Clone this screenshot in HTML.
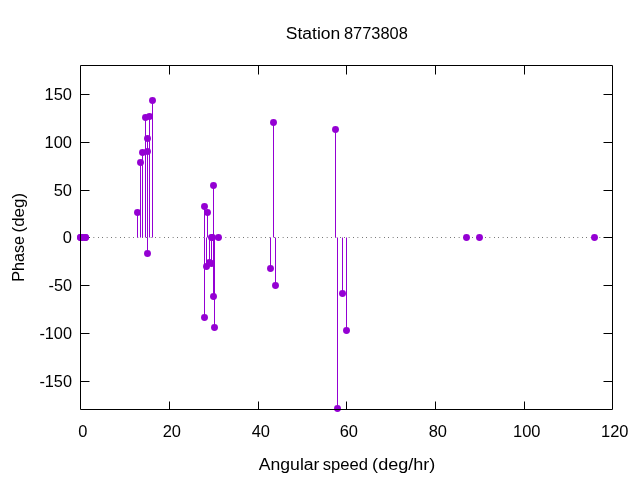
<!DOCTYPE html>
<html lang="en"><head><meta charset="utf-8"><title>Station 8773808</title>
<style>html,body{margin:0;padding:0;background:#fff;overflow:hidden}svg{display:block}text{font-family:"Liberation Sans",sans-serif;font-size:16px;fill:#000}</style></head><body>
<svg width="640" height="480" viewBox="0 0 640 480">
<rect width="640" height="480" fill="#fff"/>
<path d="M169.5 409.5V401.5M169.5 65.5V74.5M258.5 409.5V401.5M258.5 65.5V74.5M346.5 409.5V401.5M346.5 65.5V74.5M435.5 409.5V401.5M435.5 65.5V74.5M524.5 409.5V401.5M524.5 65.5V74.5M80.5 94.5H89.5M612.5 94.5H603.5M80.5 142.5H89.5M612.5 142.5H603.5M80.5 190.5H89.5M612.5 190.5H603.5M80.5 237.5H89.5M612.5 237.5H603.5M80.5 285.5H89.5M612.5 285.5H603.5M80.5 333.5H89.5M612.5 333.5H603.5M80.5 381.5H89.5M612.5 381.5H603.5" stroke="#000" stroke-width="1" fill="none"/>
<path d="M80.4 237.5H612.5" stroke="#000" stroke-width="1" stroke-dasharray="0.6 3.8" stroke-opacity="0.88" fill="none"/>
<path d="M137.5 237.5V212.5M140.5 237.5V162.5M142.5 237.5V152.5M147.5 237.5V151.5M147.5 237.5V138.5M145.5 237.5V117.5M149.5 237.5V116.5M152.5 237.5V100.5M147.5 237.5V253.5M213.5 237.5V185.5M204.5 237.5V206.5M207.5 237.5V212.5M206.5 237.5V266.5M209.5 237.5V262.5M211.5 237.5V263.5M213.5 237.5V296.5M204.5 237.5V317.5M214.5 237.5V327.5M273.5 237.5V122.5M270.5 237.5V268.5M275.5 237.5V285.5M335.5 237.5V129.5M337.5 237.5V408.5M342.5 237.5V293.5M346.5 237.5V330.5" stroke="#9400d3" stroke-width="1" fill="none"/>
<g fill="#9400d3">
<circle cx="80.5" cy="237.5" r="3.45"/>
<circle cx="80.5" cy="237.5" r="3.45"/>
<circle cx="82.5" cy="237.5" r="3.45"/>
<circle cx="85.5" cy="237.5" r="3.45"/>
<circle cx="85.5" cy="237.5" r="3.45"/>
<circle cx="137.5" cy="212.5" r="3.45"/>
<circle cx="140.5" cy="162.5" r="3.45"/>
<circle cx="142.5" cy="152.5" r="3.45"/>
<circle cx="147.5" cy="151.5" r="3.45"/>
<circle cx="147.5" cy="138.5" r="3.45"/>
<circle cx="145.5" cy="117.5" r="3.45"/>
<circle cx="149.5" cy="116.5" r="3.45"/>
<circle cx="152.5" cy="100.5" r="3.45"/>
<circle cx="147.5" cy="253.5" r="3.45"/>
<circle cx="213.5" cy="185.5" r="3.45"/>
<circle cx="204.5" cy="206.5" r="3.45"/>
<circle cx="207.5" cy="212.5" r="3.45"/>
<circle cx="211.5" cy="237.5" r="3.45"/>
<circle cx="212.5" cy="237.5" r="3.45"/>
<circle cx="218.5" cy="237.5" r="3.45"/>
<circle cx="206.5" cy="266.5" r="3.45"/>
<circle cx="209.5" cy="262.5" r="3.45"/>
<circle cx="211.5" cy="263.5" r="3.45"/>
<circle cx="213.5" cy="296.5" r="3.45"/>
<circle cx="204.5" cy="317.5" r="3.45"/>
<circle cx="214.5" cy="327.5" r="3.45"/>
<circle cx="273.5" cy="122.5" r="3.45"/>
<circle cx="270.5" cy="268.5" r="3.45"/>
<circle cx="275.5" cy="285.5" r="3.45"/>
<circle cx="335.5" cy="129.5" r="3.45"/>
<circle cx="337.5" cy="408.5" r="3.45"/>
<circle cx="342.5" cy="293.5" r="3.45"/>
<circle cx="346.5" cy="330.5" r="3.45"/>
<circle cx="466.5" cy="237.5" r="3.45"/>
<circle cx="479.5" cy="237.5" r="3.45"/>
<circle cx="594.5" cy="237.5" r="3.45"/>
</g>
<path d="M80.5 65.5V409.5H612.5V65.5Z" stroke="#000" stroke-width="1" fill="none" stroke-linejoin="miter"/>
<text x="44.55" y="99.8" textLength="27.45" lengthAdjust="spacingAndGlyphs">150</text>
<text x="44.55" y="147.8" textLength="27.45" lengthAdjust="spacingAndGlyphs">100</text>
<text x="53.7" y="195.8" textLength="18.3" lengthAdjust="spacingAndGlyphs">50</text>
<text x="62.85" y="242.8" textLength="9.15" lengthAdjust="spacingAndGlyphs">0</text>
<text x="48.55" y="290.8" textLength="23.45" lengthAdjust="spacingAndGlyphs">-50</text>
<text x="39.4" y="338.8" textLength="32.6" lengthAdjust="spacingAndGlyphs">-100</text>
<text x="39.4" y="386.8" textLength="32.6" lengthAdjust="spacingAndGlyphs">-150</text>
<text x="78.22" y="437.2" textLength="9.15" lengthAdjust="spacingAndGlyphs">0</text>
<text x="162.65" y="437.2" textLength="18.3" lengthAdjust="spacingAndGlyphs">20</text>
<text x="251.65" y="437.2" textLength="18.3" lengthAdjust="spacingAndGlyphs">40</text>
<text x="339.65" y="437.2" textLength="18.3" lengthAdjust="spacingAndGlyphs">60</text>
<text x="428.65" y="437.2" textLength="18.3" lengthAdjust="spacingAndGlyphs">80</text>
<text x="513.07" y="437.2" textLength="27.45" lengthAdjust="spacingAndGlyphs">100</text>
<text x="601.07" y="437.2" textLength="27.45" lengthAdjust="spacingAndGlyphs">120</text>
<text y="39"><tspan x="285.81" textLength="54.43" lengthAdjust="spacingAndGlyphs">Station</tspan> <tspan x="343.96" textLength="63.8" lengthAdjust="spacingAndGlyphs">8773808</tspan></text>
<text y="469.75"><tspan x="258.75" textLength="60.72" lengthAdjust="spacingAndGlyphs">Angular</tspan> <tspan x="322.66" textLength="45.29" lengthAdjust="spacingAndGlyphs">speed</tspan> <tspan x="372.13" textLength="63.18" lengthAdjust="spacingAndGlyphs">(deg/hr)</tspan></text>
<text transform="translate(24.2 281.86) rotate(-90)"><tspan x="0" textLength="45.82" lengthAdjust="spacingAndGlyphs">Phase</tspan> <tspan x="49.37" textLength="39.64" lengthAdjust="spacingAndGlyphs">(deg)</tspan></text>
</svg></body></html>
